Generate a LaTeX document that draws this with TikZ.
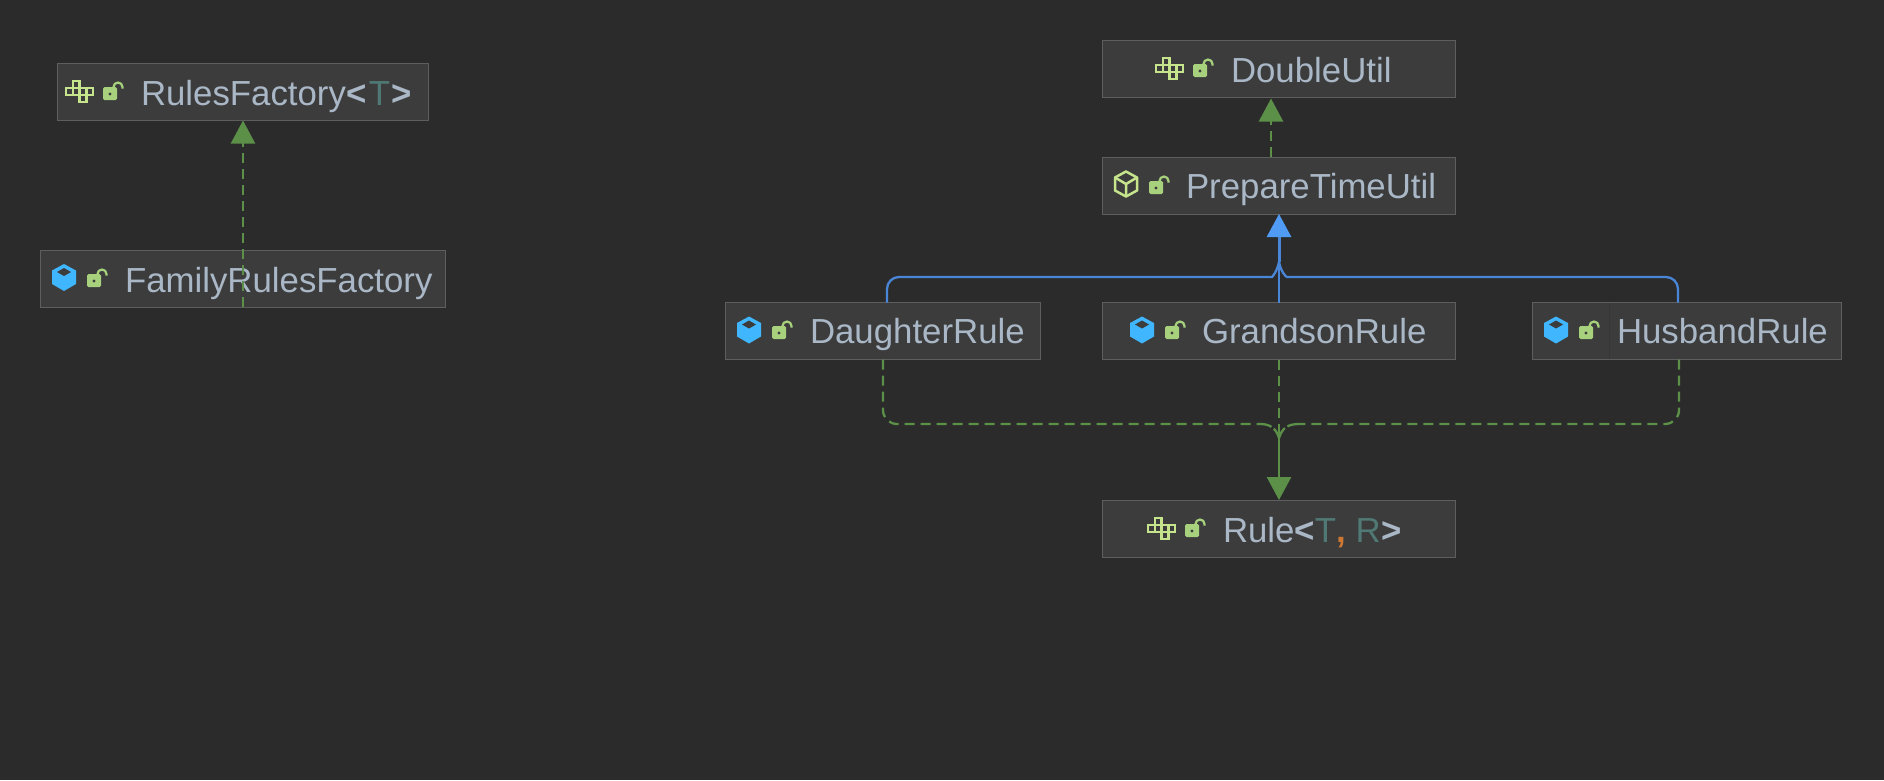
\documentclass[tikz,border=0pt]{standalone}
\usepackage{fontspec}
\setmainfont{Liberation Sans}
\usetikzlibrary{arrows.meta}
\definecolor{canvasbg}{HTML}{2B2B2B}
\definecolor{boxfill}{HTML}{3C3C3C}
\definecolor{boxline}{HTML}{5E5E5E}
\definecolor{boxsplit}{HTML}{373737}
\definecolor{labeltext}{HTML}{A9B7C6}
\definecolor{generictext}{HTML}{507874}
\definecolor{commatext}{HTML}{CC7832}
\definecolor{implgreen}{HTML}{5C8F48}
\definecolor{extblue}{HTML}{4A86D8}
\definecolor{extbluetip}{HTML}{509CF5}
\definecolor{iconlime}{HTML}{C5E48C}
\definecolor{iconlock}{HTML}{A7D17D}
\definecolor{iconblue}{HTML}{40B6FF}
\tikzset{
  classbox/.style={draw=boxline, fill=boxfill, line width=1pt, inner sep=0pt, outer sep=0pt, minimum width=#1, minimum height=57pt},
  classlabel/.style={anchor=base west, inner sep=0pt, outer sep=0pt, text=labeltext, font=\fontsize{34.8}{40}\selectfont},
  impledge/.style={draw=implgreen, line width=2.3pt, dash pattern=on 10pt off 6pt},
  implcurve/.style={draw=implgreen, line width=2.3pt, dash pattern=on 12pt off 3pt},
  implstem/.style={draw=implgreen, line width=2.6pt},
  exteedge/.style={draw=extblue, line width=2.3pt},
  impltip/.style={-{Triangle[length=23pt, width=24pt, color=implgreen]}},
  extetip/.style={-{Triangle[length=23pt, width=24pt, color=extbluetip]}}
}
\newcommand{\lockicon}[2]{\begin{scope}[shift={(#1,#2)}]
\fill[iconlock, rounded corners=1.5pt] (-7,-6.5) rectangle (7,6.5);
\fill[boxfill] (0,0.5) circle (1.7);
\draw[iconlock, line width=2.2pt] (3.5,-5) -- (3.5,-6.5) arc[start angle=180, end angle=360, radius=4.5] -- (12.5,-5);
\end{scope}}
\newcommand{\classicon}[2]{\begin{scope}[shift={(#1,#2)}]
\fill[iconblue] (0,-13.5) -- (12,-7) -- (12,6.5) -- (0,13.5) -- (-12,6.5) -- (-12,-7) -- cycle;
\fill[boxfill] (0,-9.5) -- (7,-5.5) -- (0,-1.5) -- (-7,-5.5) -- cycle;
\end{scope}}
\newcommand{\cubeicon}[2]{\begin{scope}[shift={(#1,#2)}]
\draw[iconlime, line width=2.5pt, line join=round] (0,-12.5) -- (11,-6.5) -- (11,6.5) -- (0,12.5) -- (-11,6.5) -- (-11,-6.5) -- cycle;
\draw[iconlime, line width=2.5pt, line join=round] (-11,-6.5) -- (0,0) -- (11,-6.5) (0,0) -- (0,12.5);
\end{scope}}
\newcommand{\interfaceicon}[2]{\begin{scope}[shift={(#1,#2)}]
\foreach \cellx/\celly in {-6.75/-10.5, -13.5/-3.5, -6.75/-3.5, 0/-3.5, 6.75/-3.5, 0/3.5} {
\filldraw[fill=boxfill, draw=iconlime, line width=2.5pt] (\cellx,\celly) rectangle +(6.75,7);
}
\end{scope}}
\begin{document}
\begin{tikzpicture}[x=1pt,y=-1pt]
\useasboundingbox (0,0) rectangle (1884,780);
\fill[canvasbg] (0,0) rectangle (1884,780);
\node[classbox=371pt] (rulesFactory) at (243,92) {};
\node[classbox=405pt] (familyRulesFactory) at (243,278.5) {};
\node[classbox=353pt] (doubleUtil) at (1279,69) {};
\node[classbox=353pt] (prepareTimeUtil) at (1279,185.5) {};
\node[classbox=315pt] (daughterRule) at (883,331) {};
\node[classbox=353pt] (grandsonRule) at (1279,331) {};
\node[classbox=309pt] (husbandRule) at (1687,331) {};
\node[classbox=353pt] (rule) at (1279,528.5) {};
\draw[boxsplit, line width=1pt] (1609,303) -- (1609,359);
\node[classlabel] (rulesFactoryText) at (141,105) {RulesFactory\hspace{1pt}{\bfseries<}\hspace{1.5pt}\textcolor{generictext}{T}\hspace{1.5pt}{\bfseries>}};
\node[classlabel] (familyRulesFactoryText) at (125,292) {FamilyRulesFactory};
\node[classlabel] (doubleUtilText) at (1231,82) {DoubleUtil};
\node[classlabel] (prepareTimeUtilText) at (1186,198) {PrepareTimeUtil};
\node[classlabel] (daughterRuleText) at (810,343) {DaughterRule};
\node[classlabel] (grandsonRuleText) at (1202,343) {GrandsonRule};
\node[classlabel] (husbandRuleText) at (1617,343) {HusbandRule};
\node[classlabel] (ruleText) at (1223,542) {Rule{\bfseries<}\textcolor{generictext}{T}\textcolor{commatext}{\bfseries,} \textcolor{generictext}{R}\hspace{1pt}{\bfseries>}};
\interfaceicon{79.7}{91.5}
\lockicon{110}{93.5}
\classicon{64}{277.5}
\lockicon{94}{280.5}
\interfaceicon{1169.6}{68.5}
\lockicon{1200}{70.5}
\cubeicon{1126}{184}
\lockicon{1156}{187.5}
\classicon{749}{330}
\lockicon{779}{332.5}
\classicon{1142}{330}
\lockicon{1172}{332.5}
\classicon{1556}{330}
\lockicon{1586}{332.5}
\interfaceicon{1161.7}{528.5}
\lockicon{1192}{530.5}
\coordinate (doubleUtilIn) at (1271,98.5);
\coordinate (prepareOut) at (1271,157);
\coordinate (blueJoin) at (1279,262);
\coordinate (blueLeftCorner) at (887,277);
\coordinate (blueLeftEnd) at (1260,277);
\coordinate (blueRightCorner) at (1678,277);
\coordinate (blueRightEnd) at (1299,277);
\coordinate (greenJoin) at (1279,438);
\coordinate (greenLeftCorner) at (883,424);
\coordinate (greenLeftEnd) at (1260,424);
\coordinate (greenRightCorner) at (1679,424);
\coordinate (greenRightEnd) at (1299,424);
\draw[impledge, impltip] (familyRulesFactory.south) -- (rulesFactory.south);
\draw[impledge, impltip] (prepareOut) -- (doubleUtilIn);
\draw[exteedge] (grandsonRule.north) -- (blueJoin);
\draw[exteedge, rounded corners=12pt] (blueLeftCorner |- daughterRule.north) -- (blueLeftCorner) -- (blueLeftEnd) .. controls (1272,277) and (1277,272) .. (blueJoin);
\draw[exteedge, rounded corners=12pt] (blueRightCorner |- husbandRule.north) -- (blueRightCorner) -- (blueRightEnd) .. controls (1286,277) and (1281,272) .. (blueJoin);
\draw[exteedge, line width=3pt, extetip] (blueJoin) -- (prepareTimeUtil.south);
\draw[impledge] (grandsonRule.south) -- (greenJoin);
\draw[impledge, rounded corners=14pt] (daughterRule.south) -- (greenLeftCorner) -- (greenLeftEnd);
\draw[impledge, rounded corners=14pt] (greenRightCorner |- husbandRule.south) -- (greenRightCorner) -- (greenRightEnd);
\draw[implcurve] (greenLeftEnd) .. controls (1270,424) and (1276,428) .. (greenJoin);
\draw[implcurve] (greenRightEnd) .. controls (1288,424) and (1282,428) .. (greenJoin);
\draw[implstem, impltip] (greenJoin) -- (rule.north);
\end{tikzpicture}
\end{document}
